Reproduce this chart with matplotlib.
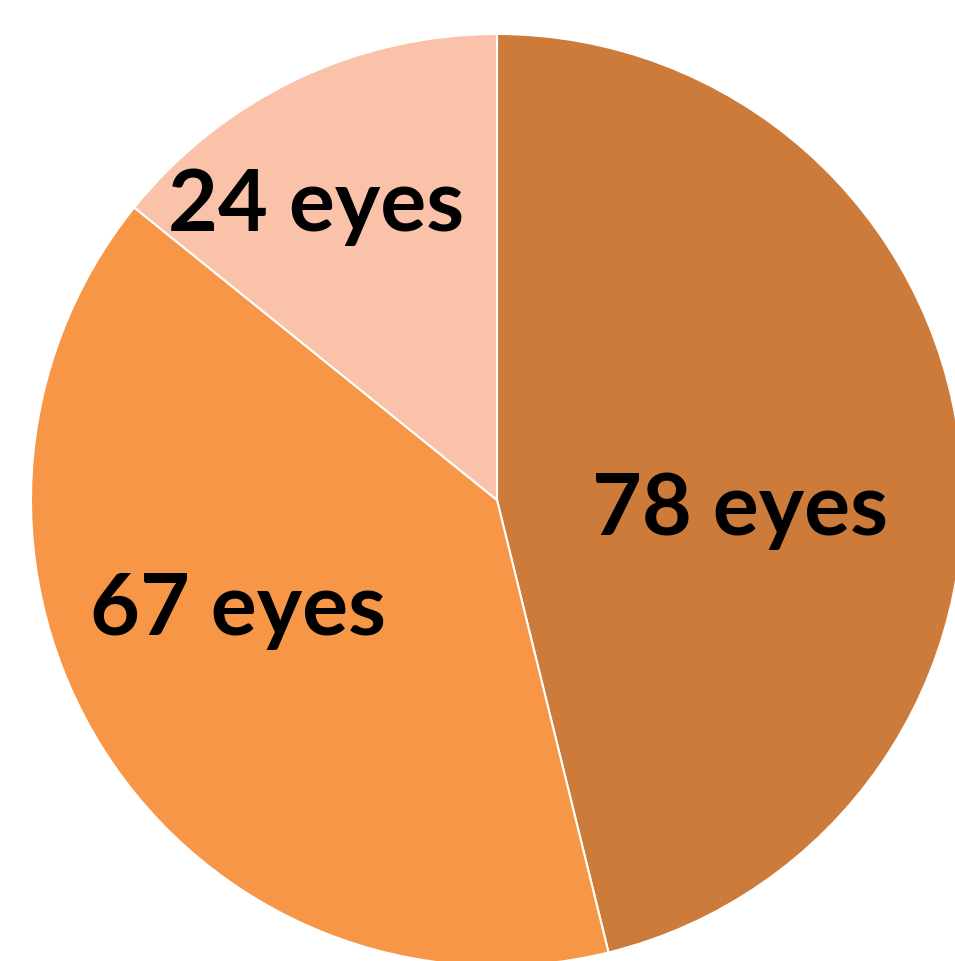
import matplotlib.pyplot as plt

# Data
labels = ['78 eyes', '67 eyes', '24 eyes']
values = [78, 67, 24]
colors = ['#CC7B3A', '#F79646', '#FAC2A9']

fig = plt.figure(figsize=(9.55, 9.61), dpi=100)
ax = fig.add_axes([0, 0, 1, 1])
ax.set_xlim(0, 955)
ax.set_ylim(0, 961)
ax.set_aspect('equal')
ax.axis('off')

center = (497, 461)
radius = 466

ax.pie(values, colors=colors, startangle=90, counterclock=False,
       center=center, radius=radius, frame=True,
       wedgeprops=dict(linewidth=1.5, edgecolor='white'))
ax.set_xlim(0, 955)
ax.set_ylim(0, 961)
ax.axis('off')

# Label positions (pixels from top-left)
label_pos = [(740, 510), (238, 610), (316, 207)]
for lab, (x, y) in zip(labels, label_pos):
    ax.text(x, 961 - y, lab, ha='center', va='center', fontsize=62,
            fontweight='bold', family=['Lato', 'DejaVu Sans'], color='black')

plt.savefig('out.png', dpi=100)
